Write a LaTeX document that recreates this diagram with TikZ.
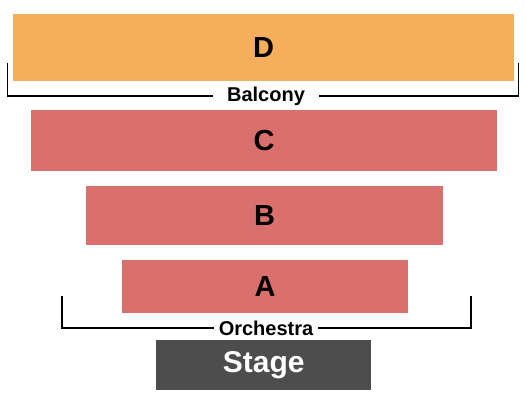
\documentclass[tikz,border=0pt]{standalone}
\usepackage{fontspec}
\setmainfont{Liberation Sans}
\usetikzlibrary{positioning}
\definecolor{balconyorange}{HTML}{F4AE5C}
\definecolor{orchestrared}{HTML}{D9706E}
\definecolor{stagegray}{HTML}{4D4D4D}

\begin{document}
\begin{tikzpicture}[
    x=1pt, y=-1pt,
    % --- Section styles ---
    section/.style={
      rectangle, draw=none, inner sep=0pt, anchor=north west,
      font=\fontsize{29}{32}\selectfont\bfseries, text=black,
    },
    upper/.style={section, fill=balconyorange},
    lower/.style={section, fill=orchestrared},
    stagebox/.style={section, fill=stagegray, text=white,
      font=\fontsize{30}{34}\selectfont\bfseries},
    % --- Bracket styles ---
    bracket/.style={line width=1.4pt, color=black},
    grouplabel/.style={font=\fontsize{20}{22}\selectfont\bfseries,
      inner ysep=0pt},
  ]
    \useasboundingbox (0,0) rectangle (525,401);

    % ===================== SECTIONS =====================
    \node[upper, minimum width=501pt, minimum height=67pt] (secD) at (13,14)  {D};
    \node[lower, minimum width=466pt, minimum height=61pt] (secC) at (31,110) {C};
    \node[lower, minimum width=357pt, minimum height=59pt] (secB) at (86,186) {B};
    \node[lower, minimum width=286pt, minimum height=53pt] (secA) at (122,260) {A};

    % ===================== STAGE =====================
    \node[stagebox, minimum width=215pt, minimum height=50pt] (stage) at (156,340) {Stage};

    % ===================== BALCONY BRACKET =====================
    \node[grouplabel, inner xsep=14pt] (balc) at (266,96) {Balcony};
    \coordinate (balcL) at (7.5,63);
    \coordinate (balcR) at (518.5,63);
    \draw[bracket] (balc.west) -| (balcL);
    \draw[bracket] (balc.east) -| (balcR);

    % ===================== ORCHESTRA BRACKET =====================
    \node[grouplabel, inner xsep=5pt] (orch) at (266,328) {Orchestra};
    \coordinate (orchL) at (62,296);
    \coordinate (orchR) at (471,296);
    \draw[bracket] (orch.west) -| (orchL);
    \draw[bracket] (orch.east) -| (orchR);

  \end{tikzpicture}
\end{document}
